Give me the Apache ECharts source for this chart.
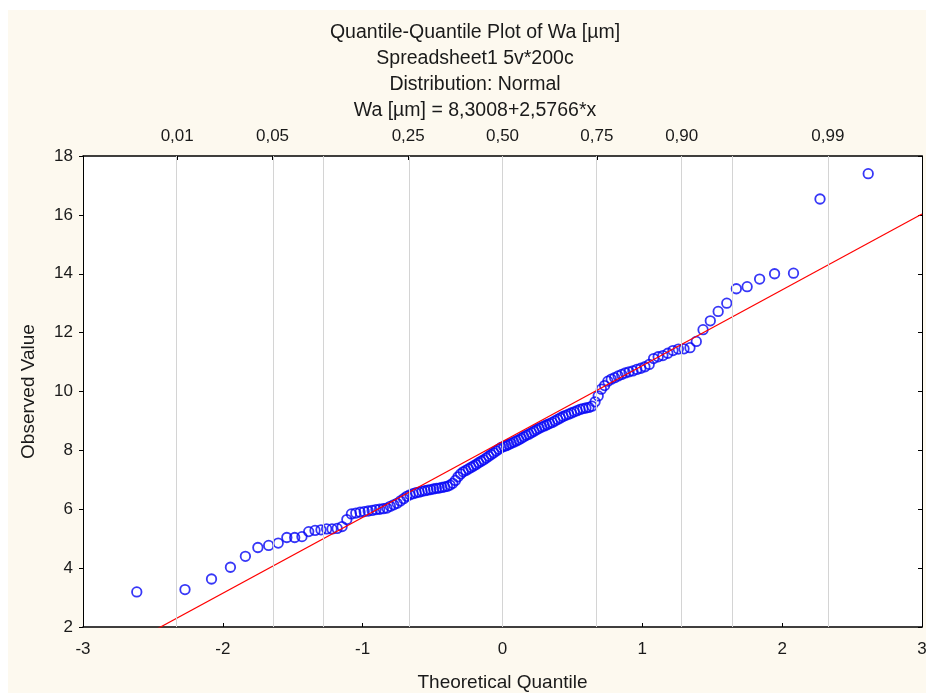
<!DOCTYPE html>
<html>
<head>
<meta charset="utf-8">
<script src="https://cdn.jsdelivr.net/npm/echarts@6/dist/echarts.min.js"></script>
<style>
  html, body { margin:0; padding:0; background:#ffffff; overflow:hidden; }
  #bg { position:absolute; left:8px; top:10px; right:0; bottom:0; background:#fdf9ef; }
  #chart { position:absolute; left:0; top:0; width:926px; height:693px; }
</style>
</head>
<body>
<div id="bg"></div>
<div id="chart"></div>
<script>
// ---------- data ----------
const titleLines = [
  'Quantile-Quantile Plot of Wa [µm]',
  'Spreadsheet1 5v*200c',
  'Distribution: Normal',
  'Wa [µm] = 8,3008+2,5766*x'
];
// sorted observed values (n = 140)
const observed = [
  3.19, 3.27, 3.63, 4.03, 4.40, 4.70, 4.77, 4.85, 5.04, 5.04,
  5.07, 5.24, 5.28, 5.30, 5.33, 5.33, 5.35, 5.41, 5.65, 5.84,
  5.87, 5.90, 5.92, 5.94, 5.96, 5.99, 6.00, 6.02, 6.04, 6.10,
  6.15, 6.20, 6.28, 6.36, 6.44, 6.49, 6.53, 6.56, 6.58, 6.61,
  6.63, 6.65, 6.67, 6.69, 6.71, 6.72, 6.74, 6.76, 6.78, 6.82,
  6.88, 6.98, 7.10, 7.20, 7.27, 7.32, 7.37, 7.42, 7.47, 7.52,
  7.58, 7.63, 7.68, 7.74, 7.80, 7.86, 7.92, 7.98, 8.04, 8.10,
  8.13, 8.16, 8.20, 8.24, 8.28, 8.32, 8.36, 8.41, 8.46, 8.51,
  8.55, 8.60, 8.65, 8.70, 8.75, 8.79, 8.83, 8.87, 8.91, 8.95,
  9.00, 9.05, 9.10, 9.15, 9.19, 9.23, 9.27, 9.31, 9.35, 9.39,
  9.42, 9.44, 9.46, 9.50, 9.65, 9.85, 10.08, 10.20, 10.35, 10.42,
  10.47, 10.53, 10.58, 10.63, 10.67, 10.70, 10.75, 10.79, 10.84, 10.92,
  11.12, 11.18, 11.22, 11.30, 11.39, 11.44, 11.45, 11.49, 11.70, 12.10,
  12.40, 12.72, 13.00, 13.49, 13.56, 13.82, 14.00, 14.02, 16.54, 17.40
];
const fitIntercept = 8.3008;
const fitSlope = 2.5766;
// probability grid (top axis)
const gridProbs = [0.01, 0.05, 0.10, 0.25, 0.50, 0.75, 0.90, 0.95, 0.99];
const labelProbs = [0.01, 0.05, 0.25, 0.50, 0.75, 0.90, 0.99];
const labelTexts = ['0,01', '0,05', '0,25', '0,50', '0,75', '0,90', '0,99'];
const xTicks = [-3, -2, -1, 0, 1, 2, 3];
const yTicks = [2, 4, 6, 8, 10, 12, 14, 16, 18];

// ---------- inverse standard normal CDF (Acklam) ----------
function invNorm(p) {
  const a = [-3.969683028665376e+01, 2.209460984245205e+02, -2.759285104469687e+02, 1.383577518672690e+02, -3.066479806614716e+01, 2.506628277459239e+00];
  const b = [-5.447609879822406e+01, 1.615858368580409e+02, -1.556989798598866e+02, 6.680131188771972e+01, -1.328068155288572e+01];
  const c = [-7.784894002430293e-03, -3.223964580411365e-01, -2.400758277161838e+00, -2.549671010634912e+00, 4.374664141464968e+00, 2.938163982698783e+00];
  const d = [7.784695709041462e-03, 3.224671290700398e-01, 2.445134137142996e+00, 3.754408661907416e+00];
  const pl = 0.02425;
  let q, r;
  if (p < pl) {
    q = Math.sqrt(-2 * Math.log(p));
    return (((((c[0]*q+c[1])*q+c[2])*q+c[3])*q+c[4])*q+c[5]) / ((((d[0]*q+d[1])*q+d[2])*q+d[3])*q+1);
  } else if (p <= 1 - pl) {
    q = p - 0.5; r = q*q;
    return (((((a[0]*r+a[1])*r+a[2])*r+a[3])*r+a[4])*r+a[5])*q / (((((b[0]*r+b[1])*r+b[2])*r+b[3])*r+b[4])*r+1);
  } else {
    q = Math.sqrt(-2 * Math.log(1 - p));
    return -(((((c[0]*q+c[1])*q+c[2])*q+c[3])*q+c[4])*q+c[5]) / ((((d[0]*q+d[1])*q+d[2])*q+d[3])*q+1);
  }
}

const n = observed.length;
const points = observed.map((v, i) => [invNorm((i + 1 - 0.375) / (n + 0.25)), v]);
const gridZ = gridProbs.map(invNorm);
const labelZ = labelProbs.map(invNorm);
const xMin = xTicks[0], xMax = xTicks[xTicks.length - 1];
const fitLine = [[xMin, fitIntercept + fitSlope * xMin], [xMax, fitIntercept + fitSlope * xMax]];

const FONT = "'Liberation Sans', Arial, sans-serif";
const TXT = '#1a1a1a';

const chart = echarts.init(document.getElementById('chart'), null, { renderer: 'canvas' });
chart.setOption({
  backgroundColor: 'transparent',
  animation: false,
  graphic: titleLines.map((t, i) => ({
    type: 'text',
    x: 475,
    y: 33 + i * 25.8,
    style: { text: t, fill: TXT, font: '19.5px ' + FONT, textAlign: 'center', textVerticalAlign: 'middle' }
  })),
  grid: {
    left: 83, right: 4, top: 156, bottom: 66,
    containLabel: false, outerBoundsMode: 'none',
    show: true, backgroundColor: '#ffffff', borderWidth: 0
  },
  xAxis: [
    {
      type: 'value', position: 'bottom', min: xMin, max: xMax, interval: 1,
      axisLine: { show: true, onZero: false, lineStyle: { color: '#000', width: 1.5 } },
      axisTick: { show: true, inside: true, length: 4, lineStyle: { color: '#000' } },
      axisLabel: { show: true, margin: 14, color: TXT, fontSize: 17, fontFamily: FONT },
      splitLine: { show: false },
      name: 'Theoretical Quantile', nameLocation: 'middle', nameGap: 46,
      nameTextStyle: { color: TXT, fontSize: 19, fontFamily: FONT }
    },
    {
      type: 'value', position: 'top', min: xMin, max: xMax,
      axisLine: { show: true, onZero: false, lineStyle: { color: '#000', width: 1.5 } },
      axisTick: { show: true, inside: true, length: 4, lineStyle: { color: '#000' }, customValues: gridZ },
      axisLabel: {
        show: true, margin: 11, color: TXT, fontSize: 17, fontFamily: FONT,
        customValues: labelZ,
        formatter: function (v) {
          let best = 0, bd = Infinity;
          labelZ.forEach((z, k) => { const dd = Math.abs(z - v); if (dd < bd) { bd = dd; best = k; } });
          return labelTexts[best];
        }
      },
      splitLine: { show: false }
    }
  ],
  yAxis: [
    {
      type: 'value', position: 'left', min: yTicks[0], max: yTicks[yTicks.length - 1], interval: 2,
      axisLine: { show: true, onZero: false, lineStyle: { color: '#000', width: 1 } },
      axisTick: { show: true, inside: false, length: 4, lineStyle: { color: '#000' } },
      axisLabel: { show: true, margin: 10, color: TXT, fontSize: 17, fontFamily: FONT },
      splitLine: { show: false },
      name: 'Observed Value', nameLocation: 'middle', nameGap: 45, nameRotate: 90,
      nameTextStyle: { color: TXT, fontSize: 19, fontFamily: FONT }
    },
    {
      type: 'value', position: 'right', min: yTicks[0], max: yTicks[yTicks.length - 1], interval: 2,
      axisLine: { show: true, onZero: false, lineStyle: { color: '#000', width: 1 } },
      axisTick: { show: true, inside: true, length: 4, lineStyle: { color: '#000' } },
      axisLabel: { show: false },
      splitLine: { show: false }
    }
  ],
  series: [
    {
      name: 'grid', type: 'line', data: [], xAxisIndex: 0, yAxisIndex: 0, z: 1, silent: true,
      markLine: {
        silent: true, symbol: ['none', 'none'], animation: false,
        label: { show: false },
        lineStyle: { color: '#d4d4d4', width: 1, type: 'solid' },
        data: gridZ.map(z => ({ xAxis: z }))
      }
    },
    {
      name: 'Observed', type: 'scatter', data: points, xAxisIndex: 0, yAxisIndex: 0, z: 3,
      symbol: 'circle', symbolSize: 9.5,
      itemStyle: { color: 'rgba(0,0,0,0)', borderColor: '#0505f5', borderWidth: 1.8 },
      emphasis: { disabled: true }
    },
    {
      name: 'Fit', type: 'line', data: fitLine, xAxisIndex: 0, yAxisIndex: 0, z: 4,
      symbol: 'none', clip: true,
      lineStyle: { color: '#ff0000', width: 1.2 }
    }
  ]
});
</script>
</body>
</html>
